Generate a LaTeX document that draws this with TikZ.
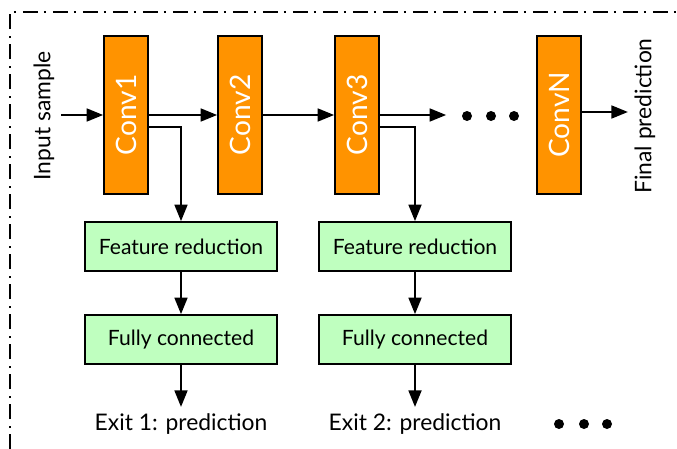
\documentclass[tikz,border=0pt]{standalone}
\usepackage{fontspec}
\setmainfont{Lato}
\usetikzlibrary{arrows.meta}
\definecolor{convorange}{HTML}{FF9300}
\definecolor{exitgreen}{HTML}{BFFFBF}

\begin{document}
\begin{tikzpicture}[>={Triangle[length=3.3mm,width=2.6mm]},line width=1pt,
  conv/.style={draw=black,fill=convorange,text=white,rotate=90,minimum width=3.16cm,minimum height=0.88cm,inner sep=0pt,font=\fontsize{16}{18}\selectfont},
  block/.style={draw=black,fill=exitgreen,minimum width=3.84cm,minimum height=0.98cm,inner sep=2pt,font=\fontsize{12}{14}\selectfont},
  lbl/.style={font=\fontsize{13}{15}\selectfont},
  bigdot/.style={circle,fill=black,inner sep=0pt,minimum size=0.2cm},
  frameline/.style={line width=0.9pt,dash pattern=on 0.3cm off 0.12cm on 0.04cm off 0.14cm}]
\useasboundingbox (0,0) rectangle (13.54,-8.98);
\draw[frameline] (0.2,-8.98)--(0.2,-0.24)--(13.54,-0.24);
% main path (rotated nodes: south is the right side, north the left side)
\node[lbl,rotate=90] (inp) at (0.88,-2.32) {Input sample};
\node[conv] (conv1) at (2.52,-2.30) {Conv1};
\node[conv] (conv2) at (4.80,-2.30) {Conv2};
\node[conv] (conv3) at (7.14,-2.30) {Conv3};
\node[bigdot] (d1) at (9.34,-2.32) {};
\node[bigdot] (d2) at (9.82,-2.32) {};
\node[bigdot] (d3) at (10.28,-2.32) {};
\node[conv] (convN) at (11.18,-2.30) {ConvN};
\node[lbl,rotate=90] (fin) at (12.9,-2.32) {Final prediction};
\draw[->] (conv1.north -| inp.south)--(conv1.north);
\draw[->] (conv1.south)--(conv2.north);
\draw[->] (conv2.south)--(conv3.north);
\draw[->,shorten >=0.3cm] (conv3.south)--(conv3.south -| d1.west);
\draw[->] ([yshift=0.06cm]convN.south)--([yshift=0.06cm]convN.south -| fin.north);
% early exits
\node[block] (red1) at (3.62,-4.93) {Feature reduction};
\node[block] (fc1) at (3.62,-6.79) {Fully connected};
\node[lbl] (exit1) at (3.62,-8.48) {Exit 1: prediction};
\node[block] (red2) at (8.30,-4.93) {Feature reduction};
\node[block] (fc2) at (8.30,-6.79) {Fully connected};
\node[lbl] (exit2) at (8.30,-8.48) {Exit 2: prediction};
\draw[->] ([yshift=-0.24cm]conv1.south) -| (red1.north);
\draw[->] ([yshift=-0.24cm]conv3.south) -| (red2.north);
\draw[->] (red1)--(fc1);
\draw[->] (fc1)--(exit1);
\draw[->] (red2)--(fc2);
\draw[->] (fc2)--(exit2);
\node[bigdot] (e1) at (11.18,-8.48) {};
\node[bigdot] (e2) at (11.68,-8.48) {};
\node[bigdot] (e3) at (12.14,-8.48) {};
\end{tikzpicture}
\end{document}
